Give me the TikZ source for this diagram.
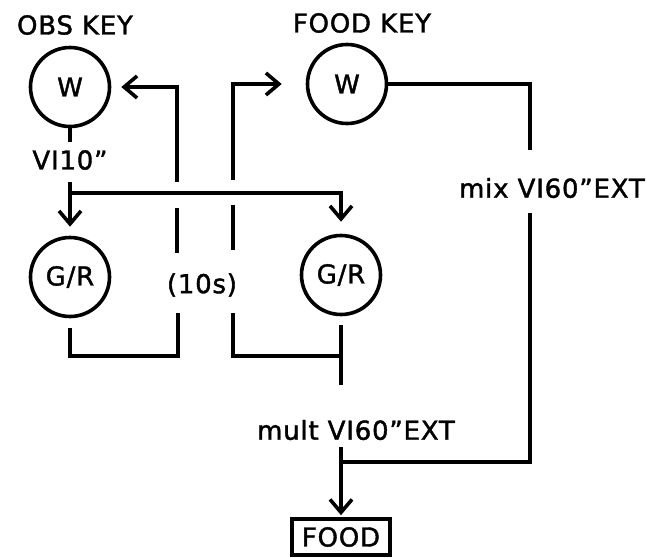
\documentclass[tikz,border=0pt]{standalone}
\usepackage{fontspec}
\setmainfont{DejaVu Sans}[LetterSpace=3,FakeBold=1.5]
\usetikzlibrary{arrows.meta}
\begin{document}
\begin{tikzpicture}[x=1pt,y=-1pt, line width=4.2pt,
  txt/.style={font=\fontsize{26}{28}\selectfont, inner sep=0pt},
  circ/.style={draw, circle, minimum size=79pt, inner sep=0pt, line width=3.6pt, txt},
  arr/.style={-{Straight Barb[length=13pt,width=22pt,line width=3.6pt]}},
]
\useasboundingbox (0,0) rectangle (647,557);
% labels
\node[txt] (obskey) at (75,25) {OBS KEY};
\node[txt] (foodkey) at (362,23) {FOOD KEY};
\node[txt] (vi) at (70,160) {VI10”};
\node[txt] (tens) at (202,285) {(10s)};
\node[txt, anchor=west] (mix) at (457,188) {mix VI60”EXT};
\node[txt] (mult) at (356,430) {mult VI60”EXT};
% boxes
\node[circ] (obsW) at (70,87) {W};
\node[circ] (foodW) at (347,84) {W};
\node[circ] (gr1) at (70,277) {G/R};
\node[circ] (gr2) at (341,275) {G/R};
\node[draw, txt, line width=3.6pt, minimum width=98pt, minimum height=36pt] (food) at (341,537) {FOOD};
% free ends
\coordinate (viend) at (70,142);
\coordinate (vistart) at (70,182);
\coordinate (j1) at (70,193);
\coordinate (obsstart) at (177,182);
\coordinate (foodstart) at (233,180);
\coordinate (d1a) at (177,208); \coordinate (d1b) at (177,253);
\coordinate (d2a) at (233,205); \coordinate (d2b) at (233,250);
\coordinate (b1end) at (178,313);
\coordinate (b2start) at (233,313);
\coordinate (b2corner) at (341,356);
\coordinate (gr2end) at (341,385);
\coordinate (multstart) at (341,447);
\coordinate (j2) at (341,462);
\coordinate (mixlow) at (530,213);
\coordinate (mixhigh) at (530,150);
% connectors
\draw (obsW.south) -- (viend);
\draw[arr, shorten >=9pt] (vistart) -- (gr1.north);
\draw[arr, shorten >=12pt] (j1) -| (gr2.north);
\draw[arr, shorten >=10pt] (obsstart) |- (obsW.east);
\draw[arr, shorten >=24pt] (foodstart) |- (foodW.west);
\draw (d1a) -- (d1b);
\draw (d2a) -- (d2b);
\draw[shorten <=10pt] (gr1.south) |- (b1end |- 0,356) -- (b1end);
\draw (b2start) |- (b2corner);
\draw[shorten <=9pt] (gr2.south) -- (gr2end);
\draw[arr, shorten >=2pt] (multstart) -- (food.north);
\draw (j2) -| (mixlow);
\draw (mixhigh) |- (foodW.east);
\end{tikzpicture}
\end{document}
